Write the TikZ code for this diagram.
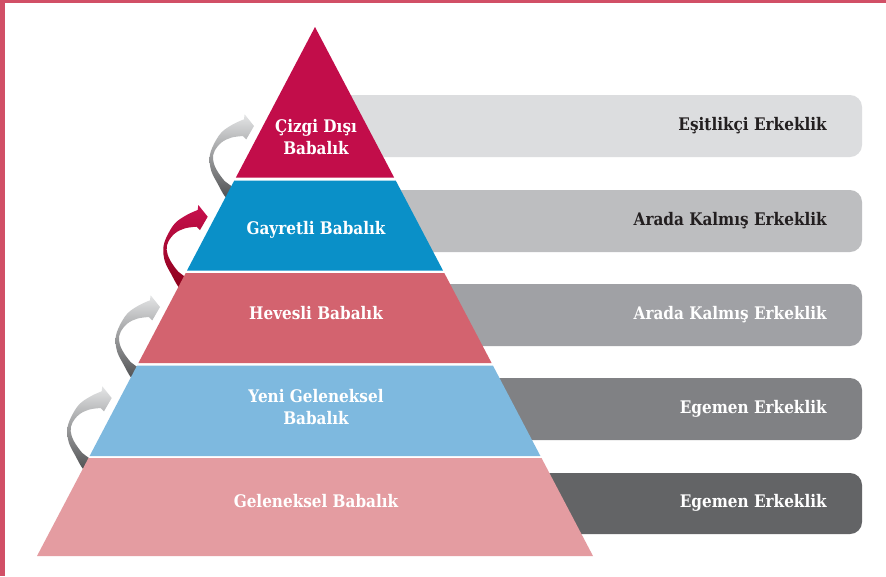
\documentclass[tikz,border=0pt]{standalone}
\usepackage{fontspec}
\setmainfont{DejaVu Serif}[FakeStretch=0.88]
\definecolor{frame}{HTML}{D14F66}
\definecolor{lay1}{HTML}{C20D4A}
\definecolor{lay2}{HTML}{0A90C8}
\definecolor{lay3}{HTML}{D3636F}
\definecolor{lay4}{HTML}{7EB9DF}
\definecolor{lay5}{HTML}{E49CA1}
\definecolor{bar1}{HTML}{DCDDDF}
\definecolor{bar2}{HTML}{BDBEC0}
\definecolor{bar3}{HTML}{A0A1A5}
\definecolor{bar4}{HTML}{808184}
\definecolor{bar5}{HTML}{636466}
\definecolor{darktxt}{HTML}{231F20}
\definecolor{gtop}{HTML}{E4E5E6}
\definecolor{gmid}{HTML}{B5B6B8}
\definecolor{gbot}{HTML}{4A4B4D}
\definecolor{rtop}{HTML}{C8104E}
\definecolor{rmid}{HTML}{B80C40}
\definecolor{rbot}{HTML}{8A0018}
\newcommand\ribbonarrow[4]{%
\begin{scope}[shift={#1}]
\shade[top color=#2, middle color=#3, bottom color=#4]
 (0,0) -- (-7.7,13.3) -- (-11,10)
 -- plot[smooth, tension=0.6] coordinates {(-11,10) (-22.7,11.6) (-32.7,16.6) (-39.4,25) (-41,33.3) (-37.7,43.3) (-29.4,55) (-22.7,60) (-18,68)}
 -- plot[smooth, tension=0.6] coordinates {(-23.7,75) (-29.4,70) (-36,58.3) (-42.7,45) (-44.4,31.6) (-41,20) (-32.7,6.6) (-21,-1.7) (-10,-6.7)}
 -- (-9.4,-11.7) -- cycle;
\end{scope}}
\begin{document}
\begin{tikzpicture}[x=0.75pt,y=-0.75pt,
  ptxt/.style={text=white, font=\bfseries\fontsize{13}{16.5}\selectfont, align=center, inner sep=0pt},
  btxt/.style={font=\bfseries\fontsize{13}{16}\selectfont, anchor=east, inner sep=0pt},
  barshape/.style={rounded corners=9pt}]
\useasboundingbox (0,0) rectangle (886,576);
\fill[white] (0,0) rectangle (886,576);
\fill[frame] (0,0) rectangle (886,3);
\fill[frame] (0,0) rectangle (5,576);
% bars
\fill[bar1, barshape] (320,95) rectangle (862,157);
\fill[bar2, barshape] (320,190) rectangle (862,252);
\fill[bar3, barshape] (320,284) rectangle (862,346);
\fill[bar4, barshape] (320,378) rectangle (862,440);
\fill[bar5, barshape] (320,473) rectangle (862,534);
% arrows
\ribbonarrow{(254,126)}{gtop}{gmid}{gbot}
\ribbonarrow{(207.7,216.7)}{rtop}{rmid}{rbot}
\ribbonarrow{(160,307)}{gtop}{gmid}{gbot}
\ribbonarrow{(111.7,398)}{gtop}{gmid}{gbot}
% pyramid
\fill[lay1] (315,27) -- (394.1,177.5) -- (235.9,177.5) -- cycle;
\fill[lay2] (234.3,180.5) -- (395.7,180.5) -- (443,270.5) -- (187,270.5) -- cycle;
\fill[lay3] (185.7,273) -- (444.3,273) -- (491.6,363) -- (138.4,363) -- cycle;
\fill[lay4] (137.1,365.5) -- (492.9,365.5) -- (540.4,456) -- (89.6,456) -- cycle;
\fill[lay5] (88.5,458) -- (541.5,458) -- (593,556) -- (37,556) -- cycle;
% pyramid texts
\node[ptxt] (p1) at (316,137) {Çizgi Dışı\\Babalık};
\node[ptxt] (p2) at (316,230) {Gayretli Babalık};
\node[ptxt] (p3) at (316,313) {Hevesli Babalık};
\node[ptxt] (p4) at (316,407) {Yeni Geleneksel\\Babalık};
\node[ptxt] (p5) at (316,501) {Geleneksel Babalık};
% bar texts
\node[btxt, text=darktxt] (e1) at (827,126) {Eşitlikçi Erkeklik};
\node[btxt, text=darktxt] (e2) at (827,221) {Arada Kalmış Erkeklik};
\node[btxt, text=white] (e3) at (827,315) {Arada Kalmış Erkeklik};
\node[btxt, text=white] (e4) at (827,409) {Egemen Erkeklik};
\node[btxt, text=white] (e5) at (827,503) {Egemen Erkeklik};
\end{tikzpicture}
\end{document}
